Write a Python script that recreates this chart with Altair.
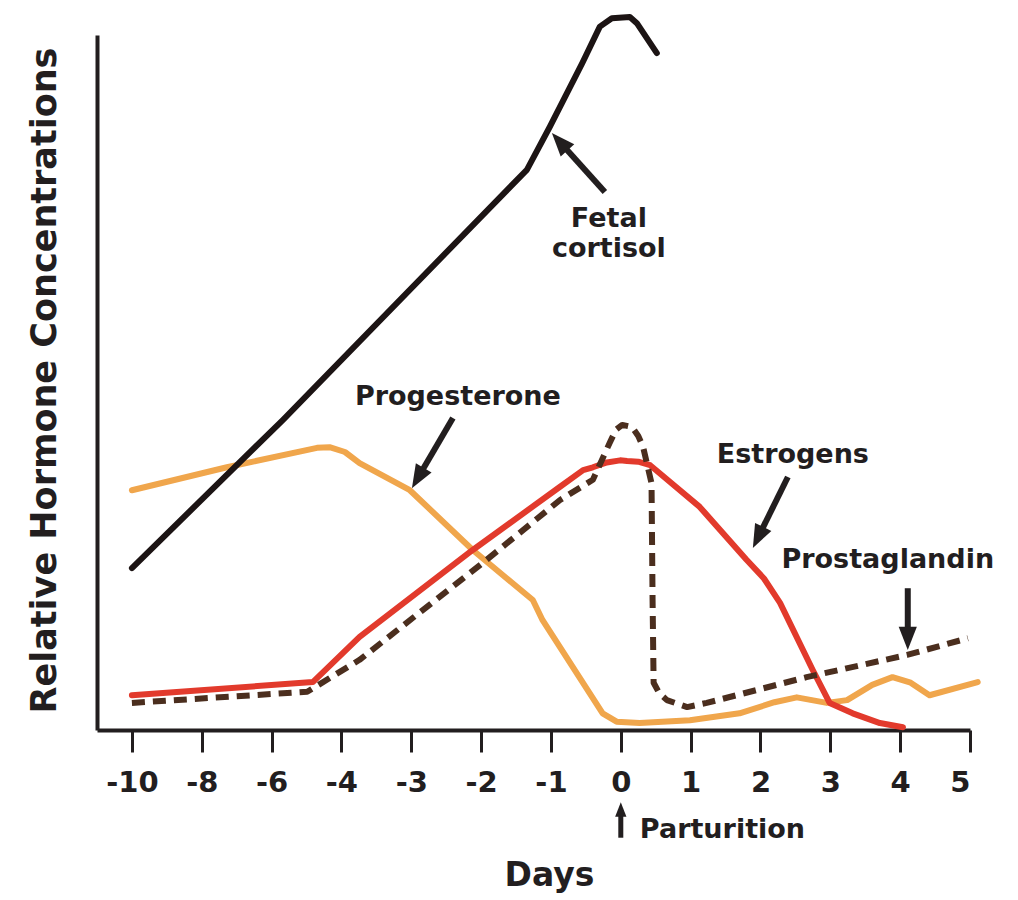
import json
import math
import altair as alt
import pandas as pd

# ---- axis ticks (equally spaced positions, non-linear day labels) ----
tick_pos = list(range(13))
tick_labels = ["-10", "-8", "-6", "-4", "-3", "-2", "-1", "0", "1", "2", "3", "4", "5"]

# ---- series (x = axis position index, y = relative concentration 0..100) ----
cortisol_x = [0.0, 2.16, 5.655, 5.984, 6.45, 6.70, 6.872, 7.13, 7.23, 7.516]
cortisol_y = [23.3, 44.6, 80.6, 86.8, 96.0, 101.2, 102.4, 102.6, 101.7, 97.4]

progesterone_x = [0.0, 1.36, 2.65, 2.83, 3.05, 3.26, 3.98, 4.88, 5.74, 5.88, 6.74, 6.94,
                  7.27, 7.99, 8.70, 9.20, 9.52, 9.95, 10.24, 10.60, 10.89, 11.15, 11.42, 12.11]
progesterone_y = [34.5, 37.8, 40.6, 40.7, 40.0, 38.4, 34.5, 25.9, 18.7, 15.8, 2.4, 1.2,
                  1.0, 1.4, 2.4, 4.0, 4.7, 3.9, 4.3, 6.5, 7.6, 6.8, 5.0, 6.9]

estrogens_x = [0.0, 2.59, 3.26, 4.88, 6.13, 6.46, 6.60, 6.80, 6.99, 7.09, 7.25, 7.42, 8.13, 8.80,
               9.05, 9.28, 9.75, 9.99, 10.32, 10.71, 11.04]
estrogens_y = [5.0, 6.9, 13.4, 25.9, 35.0, 37.4, 37.8, 38.5, 38.8, 38.7, 38.6, 38.1, 32.1, 24.5,
               21.8, 18.3, 8.6, 3.9, 2.4, 1.0, 0.4]

prostaglandin_x = [0.0, 2.51, 3.26, 5.08, 6.13, 6.60, 6.84, 6.93, 7.02, 7.16, 7.25, 7.32, 7.44,
                   7.455, 7.47, 7.55, 7.66, 7.95, 8.23, 9.66, 11.10, 11.97]
prostaglandin_y = [3.9, 5.5, 10.1, 24.5, 33.1, 36.0, 41.3, 43.2, 43.9, 43.6, 42.3, 40.7, 35.5,
                   18.7, 6.8, 5.3, 4.3, 3.3, 3.9, 7.6, 10.8, 13.2]

# ---- annotation labels ----
label_text = ["Fetal", "cortisol", "Progesterone", "Estrogens", "Prostaglandin"]
label_x = [6.829, 6.829, 4.667, 9.463, 10.823]
label_y = [72.4, 68.1, 46.8, 38.4, 23.3]

# arrows: tail -> tip
arrow_tail_x = [6.772, 4.596, 9.392, 11.109]
arrow_tail_y = [77.4, 44.9, 36.4, 20.4]
arrow_tip_x = [6.013, 4.009, 8.891, 11.109]
arrow_tip_y = [85.9, 34.8, 26.2, 11.5]

# parturition marker (below axis)
part_tail = (7.0, -15.5)
part_tip = (7.0, -10.4)
part_text_x = 7.273
part_text_y = -15.5

# ---- layout ----
W, H = 873, 695
XDOM = [-0.5, 12]
YDOM = [0, 100]
pxx = W / (XDOM[1] - XDOM[0])
pxy = H / (YDOM[1] - YDOM[0])

FONT = "DejaVu Sans"
INK = "#221e1f"

xenc = alt.X(
    "x:Q",
    scale=alt.Scale(domain=XDOM, nice=False, zero=False),
    axis=alt.Axis(
        values=tick_pos,
        labelExpr=json.dumps(tick_labels) + "[datum.value]",
        grid=False,
        tickSize=22, tickWidth=3, tickColor=INK,
        domainWidth=4, domainColor=INK,
        labelFont=FONT, labelFontSize=29, labelFontWeight="bold", labelColor=INK,
        labelPadding=16,
        title="Days", titleFont=FONT, titleFontSize=33, titleFontWeight="bold",
        titleColor=INK, titleX=452, titleY=155, titleBaseline="alphabetic",
        titleAlign="center", titleAnchor="start",
    ),
)
yenc = alt.Y(
    "y:Q",
    scale=alt.Scale(domain=YDOM, nice=False, zero=False),
    axis=alt.Axis(
        ticks=False, labels=False, grid=False,
        domainWidth=4, domainColor=INK,
        title="Relative Hormone Concentrations", titleFont=FONT, titleFontSize=35,
        titleFontWeight="bold", titleColor=INK, titleAngle=270,
        titleX=-42, titleY=345, titleBaseline="alphabetic", titleAlign="center",
        titleAnchor="start",
    ),
)


def series(xs, ys):
    return pd.DataFrame({"x": xs, "y": ys, "o": list(range(len(xs)))})


def line(df, color, dash=None, cap="round"):
    kw = dict(color=color, strokeWidth=6, interpolate="linear", strokeCap=cap,
              strokeJoin="round", clip=False)
    if dash:
        kw["strokeDash"] = dash
    return alt.Chart(df).mark_line(**kw).encode(x=xenc, y=yenc, order="o:Q")


prog = line(series(progesterone_x, progesterone_y), "#F0A64C")
estr = line(series(estrogens_x, estrogens_y), "#E23A2C")
pros = line(series(prostaglandin_x, prostaglandin_y), "#4B2E1E", dash=[13, 8], cap="butt")
cort = line(series(cortisol_x, cortisol_y), "#1c1414")

# arrows
HEAD = "M0,0L0.7,1.8L-0.7,1.8Z"


def arrow_frames(tails_x, tails_y, tips_x, tips_y, neck_px):
    shaft_rows, head_rows = [], []
    for tx, ty, hx, hy in zip(tails_x, tails_y, tips_x, tips_y):
        dx = (hx - tx) * pxx
        dy = -(hy - ty) * pxy
        L = math.hypot(dx, dy)
        ang = math.degrees(math.atan2(dx, -dy)) % 360
        nx = hx - (dx / L) * neck_px / pxx
        ny = hy + (dy / L) * neck_px / pxy
        shaft_rows.append({"x": tx, "y": ty, "x2": nx, "y2": ny})
        head_rows.append({"x": hx, "y": hy, "ang": ang})
    return pd.DataFrame(shaft_rows), pd.DataFrame(head_rows)


def arrow_layers(shaft_df, head_df, width, size):
    s = alt.Chart(shaft_df).mark_rule(color=INK, strokeWidth=width, clip=False).encode(
        x=xenc, y=yenc, x2="x2:Q", y2="y2:Q")
    h = alt.Chart(head_df).mark_point(shape=HEAD, filled=True, color=INK, opacity=1,
                                      size=size, strokeWidth=0, clip=False).encode(
        x=xenc, y=yenc, angle=alt.Angle("ang:Q", scale=None))
    return s, h


sdf, hdf = arrow_frames(arrow_tail_x, arrow_tail_y, arrow_tip_x, arrow_tip_y, 14)
shafts, heads = arrow_layers(sdf, hdf, 6, 676)

psdf, phdf = arrow_frames([part_tail[0]], [part_tail[1]], [part_tip[0]], [part_tip[1]], 8)
pshaft, phead = arrow_layers(psdf, phdf, 5, 260)

labels = alt.Chart(pd.DataFrame({"x": label_x, "y": label_y, "t": label_text})).mark_text(
    font=FONT, fontSize=27, fontWeight="bold", color=INK, align="center",
    baseline="alphabetic", clip=False).encode(x=xenc, y=yenc, text="t:N")

ptext = alt.Chart(pd.DataFrame({"x": [part_text_x], "y": [part_text_y], "t": ["Parturition"]})).mark_text(
    font=FONT, fontSize=27, fontWeight="bold", color=INK, align="left",
    baseline="alphabetic", clip=False).encode(x=xenc, y=yenc, text="t:N")

chart = alt.layer(prog, estr, pros, cort, shafts, heads, pshaft, phead, labels, ptext).properties(
    width=W, height=H,
    autosize=alt.AutoSizeParams(type="none"),
    padding={"left": 89, "top": 27, "right": 40, "bottom": 167},
    background="white",
).configure_view(stroke=None)

chart.save("out.html", embed_options={"renderer": "svg", "actions": False})
